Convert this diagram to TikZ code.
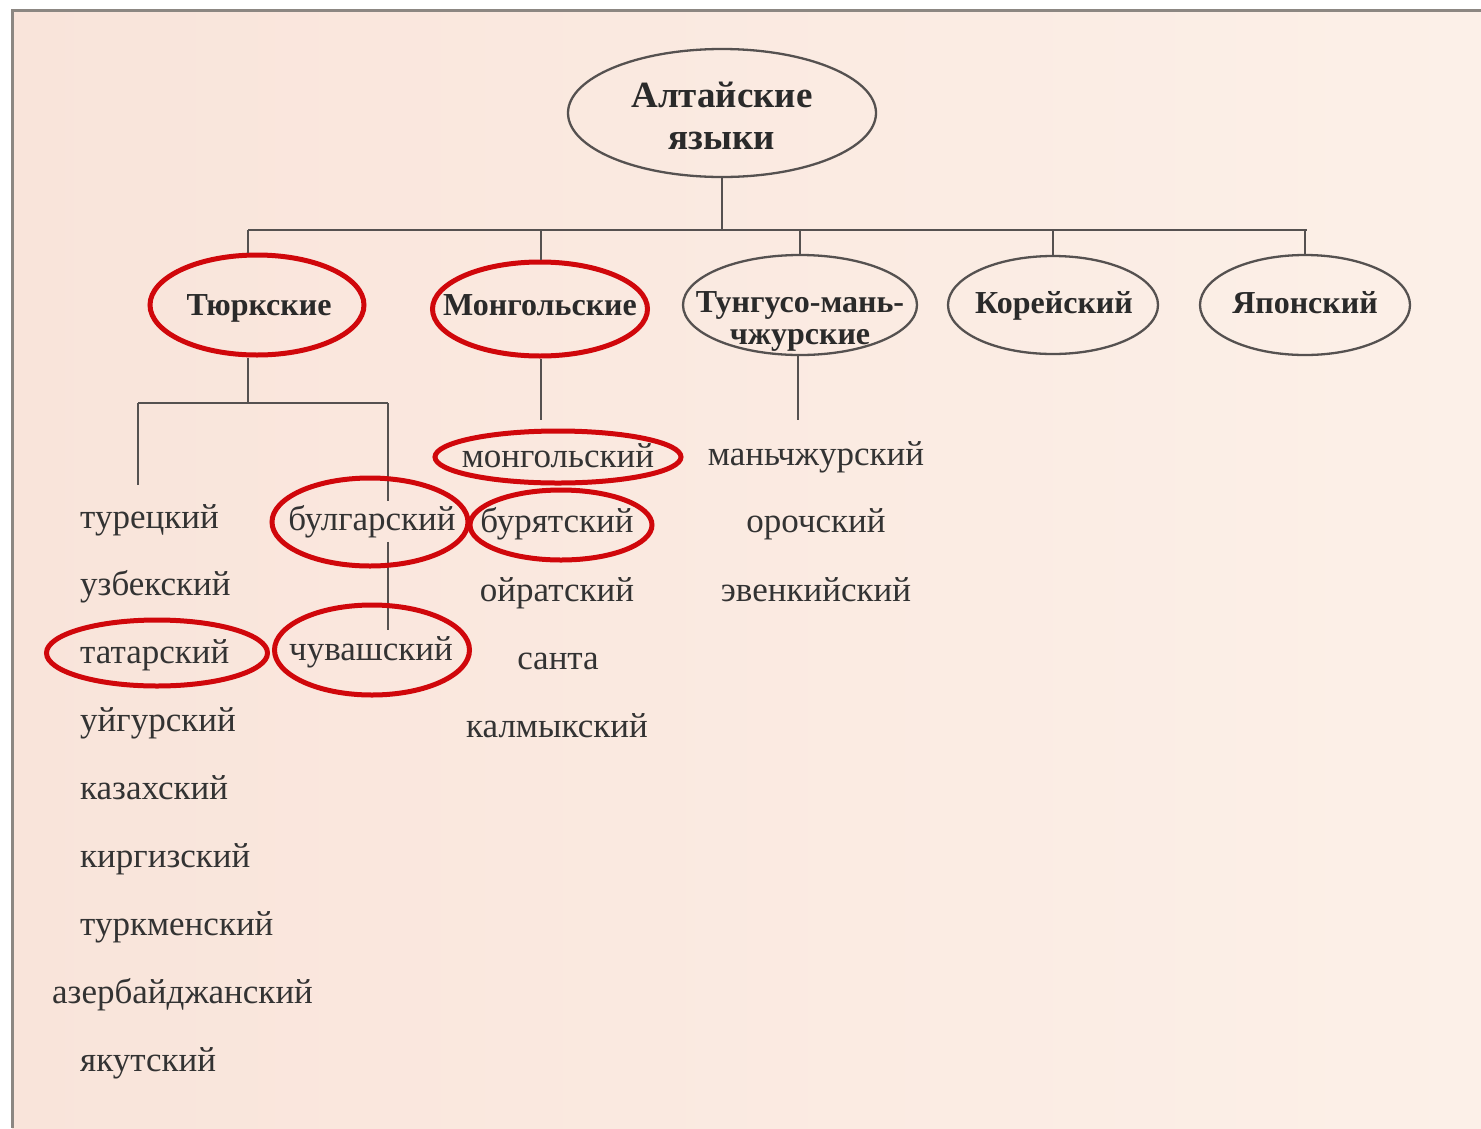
\documentclass[tikz,border=0pt]{standalone}
\usepackage{fontspec}
\setmainfont{Liberation Serif}
\usetikzlibrary{shapes.geometric}
\definecolor{bgl}{HTML}{F9E4DA}
\definecolor{bgr}{HTML}{FCF0E8}
\definecolor{framegray}{HTML}{8C8782}
\definecolor{linegray}{HTML}{555150}
\definecolor{ringred}{HTML}{D0070B}
\definecolor{ink}{HTML}{2A2A2A}
\definecolor{ink2}{HTML}{333333}
\begin{document}
\begin{tikzpicture}[x=1pt,y=-1pt,
  conn/.style={draw=linegray, line width=2.6pt},
  ovl/.style={ellipse, draw=linegray, line width=2.3pt, inner sep=0pt},
  ring/.style={ellipse, draw=ringred, line width=5pt, inner sep=0pt},
  hdr/.style={font=\fontsize{32}{32}\selectfont\bfseries, text=ink, inner sep=0pt},
  lang/.style={font=\fontsize{35}{35}\selectfont, text=ink2, inner sep=0pt}]
% background and frame
\useasboundingbox (0,0) rectangle (1481,1128);
\fill[white] (0,0) rectangle (1481,1128);
\shade[left color=bgl, right color=bgr] (12,10) rectangle (1481,1128);
\draw[framegray, line width=3pt] (12,1128) -- (12,10) -- (1481,10);

% top-level ellipses
\node[ovl, minimum width=308pt, minimum height=128pt] (alt) at (722,113) {};
\node[ring, minimum width=214pt, minimum height=100pt] (turk) at (257,305) {};
\node[ring, minimum width=215pt, minimum height=94pt] (mong) at (540,309) {};
\node[ovl, minimum width=234pt, minimum height=100pt] (tung) at (800,305) {};
\node[ovl, minimum width=210pt, minimum height=98pt] (kor) at (1053,305) {};
\node[ovl, minimum width=210pt, minimum height=100pt] (jap) at (1305,305) {};

% connectors from the root
\coordinate (bus) at (0,230);
\coordinate (bL) at (248,230);
\coordinate (bM) at (541,230);
\coordinate (bR) at (1307,230);
\draw[conn] (alt.south) -- (alt.south |- bus);
\draw[conn] (bL) -- (bR);
\draw[conn] (bL) -- (bL |- turk.north);
\draw[conn] (bM) -- (bM |- mong.north);
\draw[conn] (tung.north |- bus) -- (tung.north);
\draw[conn] (kor.north |- bus) -- (kor.north);
\draw[conn] (jap.north |- bus) -- (jap.north);

% header texts
\node[hdr, font=\fontsize{37}{42}\selectfont\bfseries, align=center] (altt) at (722,116) {Алтайские\\языки};
\node[hdr, anchor=base] (turkt) at (259,315) {Тюркские};
\node[hdr, anchor=base] (mongt) at (540,315) {Монгольские};
\node[hdr, align=center, font=\fontsize{32}{32}\selectfont\bfseries] (tungt) at (800,321) {Тунгусо-мань-\\чжурские};
\node[hdr, anchor=base] (kort) at (1054,313) {Корейский};
\node[hdr, anchor=base] (japt) at (1305,313) {Японский};

% Turkic list
\node[lang, anchor=base west] (tur) at (80,528) {турецкий};
\node[lang, anchor=base west] (uzb) at (80,595) {узбекский};
\node[lang, anchor=base west] (tat) at (80,663) {татарский};
\node[lang, anchor=base west] (uyg) at (80,731) {уйгурский};
\node[lang, anchor=base west] (kaz) at (80,799) {казахский};
\node[lang, anchor=base west] (kir) at (80,867) {киргизский};
\node[lang, anchor=base west] (trk) at (80,935) {туркменский};
\node[lang, anchor=base west] (aze) at (52,1003) {азербайджанский};
\node[lang, anchor=base west] (yak) at (80,1071) {якутский};
\node[lang, anchor=base] (bulg) at (372,530) {булгарский};
\node[lang, anchor=base] (chuv) at (371,660) {чувашский};

% Mongolic list
\node[lang, anchor=base] (mongl) at (558,467) {монгольский};
\node[lang, anchor=base] (bur) at (557,532) {бурятский};
\node[lang, anchor=base] (oir) at (557,601) {ойратский};
\node[lang, anchor=base] (san) at (558,669) {санта};
\node[lang, anchor=base] (kal) at (557,737) {калмыкский};

% Tungusic list
\node[lang, anchor=base] (man) at (816,465) {маньчжурский};
\node[lang, anchor=base] (oro) at (816,532) {орочский};
\node[lang, anchor=base] (eve) at (816,601) {эвенкийский};

% Turkic subtree connectors
\coordinate (tb) at (248,403);
\coordinate (tbl) at (138,403);
\coordinate (tbr) at (388,403);
\coordinate (turend) at (138,485);
\draw[conn] (tb |- turk.south) -- (tb);
\draw[conn] (tbl) -- (tbr);
\draw[conn] (tbl) -- (turend);
\draw[conn, shorten >=4pt] (tbr) -- (tbr |- bulg.north);
\draw[conn, shorten <=4pt, shorten >=6pt] (tbr |- bulg.south) -- (tbr |- chuv.north);

% Mongolic and Tungusic connectors
\coordinate (mend) at (541,420);
\coordinate (tend) at (798,420);
\draw[conn] (mend |- mong.south) -- (mend);
\draw[conn] (tend |- tung.south) -- (tend);

% red highlight rings
\node[ring, minimum width=246pt, minimum height=52pt] (mongr) at (558,457) {};
\node[ring, minimum width=182pt, minimum height=70pt] (burr) at (561,525) {};
\node[ring, minimum width=196pt, minimum height=88pt] (bulgr) at (370,522) {};
\node[ring, minimum width=195pt, minimum height=90pt] (chuvr) at (372,650) {};
\node[ring, minimum width=221pt, minimum height=66pt] (tatr) at (157,653) {};
\end{tikzpicture}
\end{document}
